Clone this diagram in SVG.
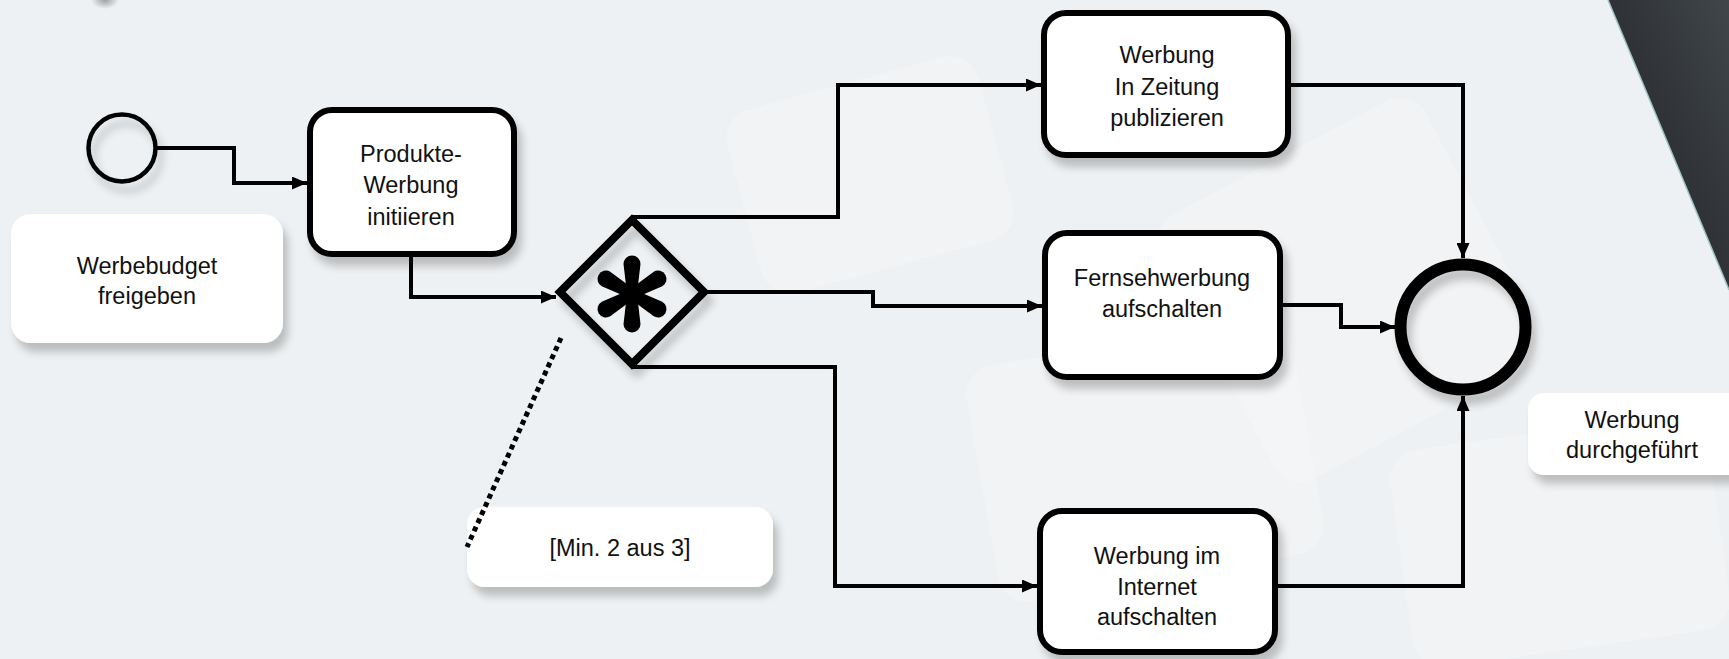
<svg xmlns="http://www.w3.org/2000/svg" width="1729" height="659" viewBox="0 0 1729 659">
<defs>
<style>
.task{fill:#ffffff;stroke:#000000;stroke-width:6}
.lbl{fill:#ffffff}
.txt{font-family:"Liberation Sans",Arial,sans-serif;font-size:23.5px;fill:#111111;text-anchor:middle}
.flow{fill:none;stroke:#000000;stroke-width:4}
.assoc{fill:none;stroke:#000000;stroke-width:5;stroke-dasharray:5 4}
.bgs{fill:#ffffff;opacity:0.18}
</style>
<marker id="arr" markerUnits="userSpaceOnUse" markerWidth="15" markerHeight="13" refX="15" refY="6.5" orient="auto">
<path d="M0,0 L15,6.5 L0,13 Z" fill="#000000"/>
</marker>
<filter id="sh" x="-20%" y="-20%" width="150%" height="160%">
<feGaussianBlur in="SourceAlpha" stdDeviation="4"/>
<feOffset dx="5" dy="9" result="b"/>
<feComponentTransfer><feFuncA type="linear" slope="0.22"/></feComponentTransfer>
<feMerge><feMergeNode/><feMergeNode in="SourceGraphic"/></feMerge>
</filter>
<linearGradient id="dark" x1="1" y1="0" x2="0" y2="1">
<stop offset="0" stop-color="#41464b"/>
<stop offset="1" stop-color="#1c1e20"/>
</linearGradient>
<radialGradient id="blob">
<stop offset="0" stop-color="#8a8d90" stop-opacity="0.8"/>
<stop offset="1" stop-color="#8a8d90" stop-opacity="0"/>
</radialGradient>
<path id="arm" d="M-5,0 L-8.5,-30 A8.5,8.5 0 0 1 8.5,-30 L5,0 Z" fill="#000000"/>
</defs>

<rect x="0" y="0" width="1729" height="659" fill="#eef1f3"/>
<g id="background">
<rect class="bgs" x="1200" y="140" width="300" height="300" rx="30" transform="rotate(-28 1350 290)"/>
<rect class="bgs" x="980" y="340" width="330" height="240" rx="30" transform="rotate(-10 1145 460)"/>
<rect class="bgs" x="1400" y="430" width="320" height="220" rx="30" transform="rotate(-8 1560 540)"/>
<rect class="bgs" x="740" y="80" width="260" height="190" rx="30" transform="rotate(-15 870 175)"/>
<ellipse cx="105" cy="0" rx="14" ry="9" fill="url(#blob)"/>
<polygon points="1608,0 1729,0 1729,290" fill="url(#dark)"/>
<line x1="1608" y1="0" x2="1729" y2="290" stroke="#9fc4c4" stroke-width="1.5"/>
</g>

<g id="start">
<circle cx="122" cy="148" r="33.5" fill="none" stroke="#000000" stroke-width="4.5" filter="url(#sh)"/>
</g>

<g id="lbl-werbebudget">
<rect class="lbl" x="11" y="214" width="272" height="129" rx="20" filter="url(#sh)"/>
<text class="txt" x="147" y="274">Werbebudget</text>
<text class="txt" x="147" y="304">freigeben</text>
</g>

<g id="task-produkte">
<rect class="task" x="310" y="110" width="204" height="144" rx="22" filter="url(#sh)"/>
<text class="txt" x="411" y="162">Produkte-</text>
<text class="txt" x="411" y="193">Werbung</text>
<text class="txt" x="411" y="225">initiieren</text>
</g>

<g id="gateway">
<polygon points="632,220 704,292 632,364 560,292" fill="none" stroke="#000000" stroke-width="8" filter="url(#sh)"/>
<g transform="translate(632,294)">
<circle r="8" fill="#000000"/>
<use href="#arm"/>
<use href="#arm" transform="rotate(60)"/>
<use href="#arm" transform="rotate(120)"/>
<use href="#arm" transform="rotate(180)"/>
<use href="#arm" transform="rotate(240)"/>
<use href="#arm" transform="rotate(300)"/>
</g>
</g>

<g id="lbl-min">
<rect class="lbl" x="467" y="507" width="306" height="80" rx="18" filter="url(#sh)"/>
<text class="txt" x="620" y="556">[Min. 2 aus 3]</text>
</g>

<g id="task-zeitung">
<rect class="task" x="1044" y="13" width="244" height="142" rx="22" filter="url(#sh)"/>
<text class="txt" x="1167" y="63">Werbung</text>
<text class="txt" x="1167" y="95">In Zeitung</text>
<text class="txt" x="1167" y="126">publizieren</text>
</g>

<g id="task-fernseh">
<rect class="task" x="1045" y="233" width="235" height="144" rx="22" filter="url(#sh)"/>
<text class="txt" x="1162" y="286">Fernsehwerbung</text>
<text class="txt" x="1162" y="317">aufschalten</text>
</g>

<g id="task-internet">
<rect class="task" x="1040" y="511" width="235" height="141" rx="22" filter="url(#sh)"/>
<text class="txt" x="1157" y="564">Werbung im</text>
<text class="txt" x="1157" y="595">Internet</text>
<text class="txt" x="1157" y="625">aufschalten</text>
</g>

<g id="end">
<circle cx="1463" cy="327" r="62.5" fill="none" stroke="#000000" stroke-width="12" filter="url(#sh)"/>
</g>

<g id="lbl-durchgefuehrt">
<rect class="lbl" x="1528" y="393" width="220" height="82" rx="16" filter="url(#sh)"/>
<text class="txt" x="1632" y="428">Werbung</text>
<text class="txt" x="1632" y="458">durchgeführt</text>
</g>

<g id="connectors">
<path class="flow" d="M157,148 H234 V183 H307" marker-end="url(#arr)"/>
<path class="flow" d="M411,257 V297 H556" marker-end="url(#arr)"/>
<path class="flow" d="M632,217 H838 V85 H1041" marker-end="url(#arr)"/>
<path class="flow" d="M706,292 H873 V306 H1042" marker-end="url(#arr)"/>
<path class="flow" d="M632,367 H835 V586 H1037" marker-end="url(#arr)"/>
<path class="flow" d="M1291,85 H1463 V258" marker-end="url(#arr)"/>
<path class="flow" d="M1283,305 H1341 V327 H1395" marker-end="url(#arr)"/>
<path class="flow" d="M1278,586 H1463 V396" marker-end="url(#arr)"/>
<path class="assoc" d="M561,338 L467,547"/>
</g>
</svg>
